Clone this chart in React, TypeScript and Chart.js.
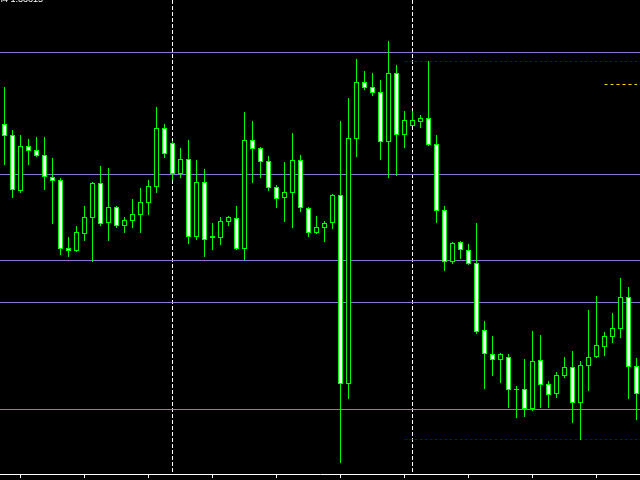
import React, { useEffect, useRef } from "react";
import { Chart, registerables } from "chart.js";

Chart.register(...registerables);

// OHLC per bar
const opens = [
  1.33857, 1.33846, 1.3379, 1.33835, 1.33831, 1.33826, 1.33804, 1.33801, 1.33733, 1.3373,
  1.33747, 1.33763, 1.33798, 1.33758, 1.33774, 1.33755, 1.3376, 1.33766, 1.33778, 1.33794,
  1.33853, 1.33838, 1.33807, 1.33822, 1.33744, 1.33799, 1.33745, 1.33743, 1.33759, 1.33763,
  1.33732, 1.33841, 1.33833, 1.3382, 1.33794, 1.33783, 1.33788, 1.33821, 1.33773, 1.33748,
  1.33753, 1.33758, 1.33786, 1.33597, 1.33842, 1.33899, 1.33894, 1.33889, 1.33839, 1.33908,
  1.33846, 1.33855, 1.33859, 1.33863, 1.33837, 1.33771, 1.33719, 1.33739, 1.33731, 1.33718,
  1.33651, 1.33627, 1.33621, 1.33624, 1.33592, 1.33592, 1.33572, 1.33621, 1.33597, 1.33587,
  1.33605, 1.33614, 1.33578, 1.33615, 1.33624, 1.33634, 1.33644, 1.33652, 1.33684, 1.33615,
];
const highs = [
  1.33894, 1.33851, 1.33846, 1.33842, 1.33844, 1.33844, 1.33823, 1.33803, 1.33744, 1.33755,
  1.33775, 1.33799, 1.33815, 1.33813, 1.33775, 1.33764, 1.33782, 1.33793, 1.33801, 1.33874,
  1.33857, 1.3384, 1.33833, 1.33841, 1.33821, 1.33812, 1.33758, 1.33764, 1.33765, 1.33775,
  1.33869, 1.3386, 1.33834, 1.33825, 1.33796, 1.33819, 1.33848, 1.33826, 1.33774, 1.33765,
  1.3376, 1.33787, 1.3386, 1.33883, 1.33922, 1.3391, 1.33908, 1.33901, 1.3394, 1.33916,
  1.3387, 1.3387, 1.33866, 1.3392, 1.33846, 1.33775, 1.33739, 1.3374, 1.33737, 1.33758,
  1.3366, 1.33645, 1.33628, 1.33627, 1.33595, 1.33622, 1.3365, 1.33646, 1.336, 1.33609,
  1.33624, 1.3363, 1.3362, 1.33671, 1.33685, 1.33649, 1.33668, 1.33703, 1.33694, 1.33623,
];
const lows = [
  1.33816, 1.33783, 1.33788, 1.33816, 1.33824, 1.33791, 1.33757, 1.33726, 1.33724, 1.33729,
  1.3374, 1.33719, 1.33755, 1.3374, 1.33753, 1.33748, 1.33753, 1.33748, 1.33766, 1.33788,
  1.33823, 1.33801, 1.33803, 1.33737, 1.33741, 1.33724, 1.33731, 1.33736, 1.33755, 1.33731,
  1.33721, 1.33798, 1.33803, 1.3379, 1.33773, 1.33759, 1.33753, 1.33769, 1.33744, 1.33747,
  1.33739, 1.33752, 1.33518, 1.33582, 1.33824, 1.33891, 1.33885, 1.33821, 1.33803, 1.33805,
  1.33833, 1.33855, 1.33853, 1.33835, 1.33758, 1.3371, 1.33717, 1.33722, 1.33716, 1.33647,
  1.33592, 1.33605, 1.33598, 1.33573, 1.33563, 1.33564, 1.3357, 1.33573, 1.33573, 1.33583,
  1.33603, 1.33558, 1.33541, 1.3359, 1.33623, 1.33625, 1.33638, 1.33643, 1.33582, 1.33561,
];
const closes = [
  1.33845, 1.33791, 1.33835, 1.3383, 1.33825, 1.33804, 1.338, 1.33732, 1.3373, 1.33749,
  1.33764, 1.33798, 1.33757, 1.33774, 1.33755, 1.33761, 1.33767, 1.33779, 1.33795, 1.33853,
  1.33827, 1.33807, 1.33822, 1.33744, 1.33799, 1.33741, 1.33743, 1.3376, 1.33764, 1.33732,
  1.33841, 1.33832, 1.33819, 1.33793, 1.33782, 1.33789, 1.33821, 1.33773, 1.33748, 1.33754,
  1.33758, 1.33786, 1.33597, 1.33843, 1.33899, 1.33893, 1.33888, 1.33839, 1.33908, 1.33846,
  1.33861, 1.33861, 1.33863, 1.33836, 1.3377, 1.33719, 1.33738, 1.33731, 1.33717, 1.33649,
  1.33627, 1.33621, 1.33627, 1.33591, 1.33591, 1.33572, 1.3362, 1.33596, 1.33586, 1.33606,
  1.33614, 1.33578, 1.33616, 1.33624, 1.33636, 1.33645, 1.33653, 1.33684, 1.33614, 1.33587,
];

// horizontal levels
const purpleLevels = [1.339285, 1.338065, 1.337205, 1.336785, 1.335715];
const blueLevels = [1.339195, 1.335415];
const blueStartBar = 50;
const yellowLevel = 1.338965;
const yellowStartBar = 75;
const yellowEndBar = 79.06;
// vertical period separators (bar index)
const separatorBars = [21, 51];
// bottom axis tick bars
const axisTickBars = [2, 10, 18, 26, 34, 42, 50, 58, 66, 74];

const TITLE = "EURUSD,H4 1.33615";

const N = opens.length;
const X_MIN = -0.5625;
const X_MAX = N - 0.5625;
const Y_MAX = 1.33981;
const Y_MIN = 1.33507;

const LIME = "#00ff00";
const PURPLE = "#9370db";

export default function App() {
  const ref = useRef<HTMLCanvasElement | null>(null);

  useEffect(() => {
    if (!ref.current) return;
    const wicks = opens.map((_, i) => ({ x: i, y: [lows[i], highs[i]] }));
    const bodies = opens.map((o, i) => ({ x: i, y: [o, closes[i]] }));
    const bodyFill = opens.map((o, i) => (closes[i] < o ? "#ffffff" : "#000000"));

    const lineBase = {
      type: "line" as const,
      pointRadius: 0,
      pointHoverRadius: 0,
      borderWidth: 1,
      fill: false,
      tension: 0,
    };

    const datasets: any[] = [
      {
        type: "bar",
        data: bodies,
        backgroundColor: bodyFill,
        borderColor: LIME,
        borderWidth: 1,
        borderSkipped: false,
        grouped: false,
        maxBarThickness: 5,
        barPercentage: 1,
        categoryPercentage: 1,
        inflateAmount: 0,
        order: 1,
      },
      {
        type: "bar",
        data: wicks,
        backgroundColor: LIME,
        borderWidth: 0,
        grouped: false,
        maxBarThickness: 1,
        barPercentage: 1,
        categoryPercentage: 1,
        inflateAmount: 0,
        order: 2,
      },
      ...purpleLevels.map((lv) => ({
        ...lineBase,
        data: [
          { x: X_MIN, y: lv },
          { x: X_MAX, y: lv },
        ],
        borderColor: PURPLE,
        order: 4,
      })),
      ...blueLevels.map((lv) => ({
        ...lineBase,
        data: [
          { x: blueStartBar, y: lv },
          { x: X_MAX, y: lv },
        ],
        borderColor: "#0000c8",
        borderDash: [3, 2],
        order: 4,
      })),
      {
        ...lineBase,
        data: [
          { x: yellowStartBar, y: yellowLevel },
          { x: yellowEndBar, y: yellowLevel },
        ],
        borderColor: "#ffd700",
        borderDash: [3, 3],
        order: 4,
      },
      ...separatorBars.map((b) => ({
        ...lineBase,
        data: [
          { x: b, y: Y_MAX },
          { x: b, y: Y_MIN },
        ],
        borderColor: "#ffffff",
        borderDash: [4, 2],
        order: 5,
      })),
    ];

    const chart = new Chart(ref.current, {
      type: "bar",
      data: { datasets },
      options: {
        animation: false,
        responsive: false,
        events: [],
        layout: { padding: 0 },
        plugins: { legend: { display: false }, tooltip: { enabled: false } },
        scales: {
          x: {
            type: "linear",
            offset: false,
            min: X_MIN,
            max: X_MAX,
            position: "bottom",
            border: { display: true, color: "#ffffff", width: 1 },
            grid: {
              offset: false,
              drawOnChartArea: false,
              drawTicks: true,
              tickLength: 4,
              color: "#ffffff",
            },
            ticks: { display: false },
            afterBuildTicks: (s: any) => {
              s.ticks = axisTickBars.map((v) => ({ value: v }));
            },
            afterFit: (s: any) => {
              s.height = 6;
            },
          },
          y: {
            type: "linear",
            display: false,
            min: Y_MIN,
            max: Y_MAX,
          },
        },
      } as any,
    });
    return () => chart.destroy();
  }, []);

  return (
    <div
      style={{
        position: "fixed",
        left: 0,
        top: 0,
        width: 640,
        height: 480,
        background: "#000",
        overflow: "hidden",
      }}
    >
      <canvas ref={ref} width={640} height={480} style={{ display: "block" }} />
      <div
        style={{
          position: "absolute",
          right: 597,
          top: -5,
          font: '9px "Liberation Sans", sans-serif',
          lineHeight: "9px",
          color: "#ffffff",
          whiteSpace: "pre",
        }}
      >
        {TITLE}
      </div>
    </div>
  );
}
